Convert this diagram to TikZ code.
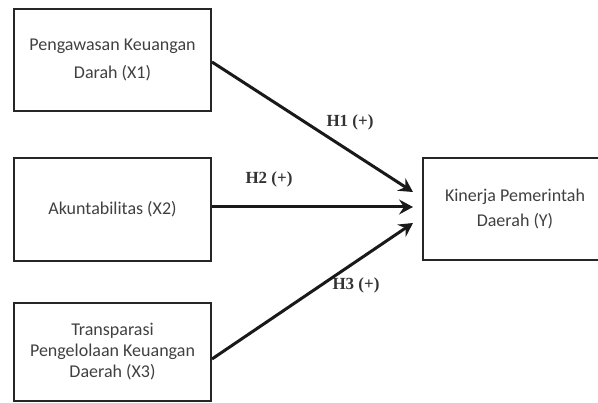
\documentclass[tikz,border=0pt]{standalone}
\usepackage{fontspec}
\setmainfont{Carlito}
\newfontfamily\labelfont{Liberation Serif}
\usetikzlibrary{arrows.meta}
\begin{document}
\begin{tikzpicture}[x=1pt,y=-1pt,
  varbox/.style={draw=black!85, line width=2pt, minimum width=197pt, minimum height=102pt,
    align=center, text=black!75, inner sep=0pt},
  path/.style={line width=3pt, draw=black!90, -{Stealth[length=14pt,width=15pt,inset=5pt]}},
  hlab/.style={font=\labelfont\bfseries\fontsize{17}{20}\selectfont, text=black!80, inner sep=0pt}
]
\useasboundingbox (0,0) rectangle (598,403);
\clip (0,0) rectangle (598,403);
\node[varbox, font=\fontsize{18}{28}\selectfont] (x1) at (112.5,60) {Pengawasan Keuangan\\Darah (X1)};
\node[varbox, minimum height=103pt, font=\fontsize{18}{22}\selectfont] (x2) at (112.5,209.5) {Akuntabilitas (X2)};
\node[varbox, minimum height=98pt, font=\fontsize{18}{21}\selectfont] (x3) at (112.5,352) {Transparasi\\Pengelolaan Keuangan\\Daerah (X3)};
\node[varbox, minimum width=184pt, font=\fontsize{18}{25}\selectfont] (y) at (515,209) {Kinerja Pemerintah\\Daerah (Y)};
\coordinate (t1) at (413,192);
\coordinate (t2) at (413,207);
\coordinate (t3) at (413,223);
\draw[path] (x1.east |- 0,62) -- (t1);
\draw[path] (x2.east |- 0,207) -- (t2);
\draw[path] (x3.east |- 0,359) -- (t3);
\node[hlab] (h1) at (350,122) {H1 (+)};
\node[hlab] (h2) at (269,179) {H2 (+)};
\node[hlab] (h3) at (356,285) {H3 (+)};
\end{tikzpicture}
\end{document}
